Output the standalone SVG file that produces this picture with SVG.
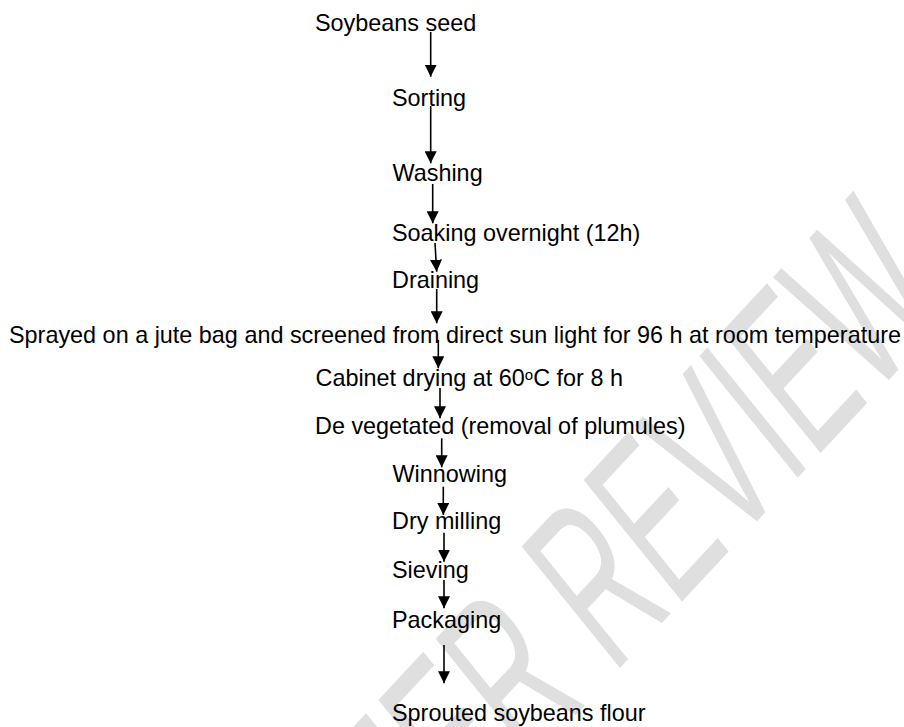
<svg xmlns="http://www.w3.org/2000/svg" width="904" height="727" viewBox="0 0 904 727">
<style>
  .t { font-family: "Liberation Sans", Arial, sans-serif; font-size: 23.4px; fill: #000; }
  .c { stroke: #000; stroke-width: 1.6; fill: none; marker-end: url(#ah); }
  .wm { font-family: "Liberation Sans", Arial, sans-serif; font-size: 225px; fill: #dfdfdf; }
</style>
<defs>
  <marker id="ah" markerUnits="userSpaceOnUse" markerWidth="12" markerHeight="12" refX="12" refY="6" orient="auto">
    <path d="M0,0 L12,6 L0,12 z" fill="#000"/>
  </marker>
</defs>
<rect width="904" height="727" fill="#fff"/>
<g id="watermark">
  <text class="wm" text-anchor="end" transform="translate(952,312) rotate(-47) skewX(-8) scale(0.56,1)">FOR PEER REVIEW</text>
</g>
<g id="connectors">
  <line class="c" x1="430.7" y1="32" x2="430.7" y2="76.7"/>
  <line class="c" x1="430.7" y1="106" x2="430.7" y2="163.3"/>
  <line class="c" x1="432.7" y1="184" x2="432.7" y2="223.3"/>
  <line class="c" x1="435" y1="243" x2="436.7" y2="271.7"/>
  <line class="c" x1="436.7" y1="289" x2="436.7" y2="323.3"/>
  <line class="c" x1="438.3" y1="340" x2="438.3" y2="368.3"/>
  <line class="c" x1="440" y1="388" x2="440" y2="418.3"/>
  <line class="c" x1="441.7" y1="438.3" x2="441.7" y2="467.3"/>
  <line class="c" x1="443.3" y1="486.7" x2="443.3" y2="515"/>
  <line class="c" x1="444" y1="532.7" x2="444" y2="561.7"/>
  <line class="c" x1="444" y1="580" x2="444" y2="608.3"/>
  <line class="c" x1="444" y1="645" x2="444" y2="683.3"/>
</g>
<g id="n1"><text class="t" x="315" y="30.5">Soybeans seed</text></g>
<g id="n2"><text class="t" x="392" y="105.5">Sorting</text></g>
<g id="n3"><text class="t" x="392.5" y="180.7">Washing</text></g>
<g id="n4"><text class="t" x="392" y="240.7">Soaking overnight (12h)</text></g>
<g id="n5"><text class="t" x="392" y="288.3">Draining</text></g>
<g id="n6"><text class="t" x="9" y="343.3">Sprayed on a jute bag and screened from direct sun light for 96 h at room temperature</text></g>
<g id="n7"><text class="t" x="315.5" y="386">Cabinet drying at 60<tspan font-size="15" dy="-6">o</tspan><tspan dy="6">C for 8 h</tspan></text></g>
<g id="n8"><text class="t" x="315" y="434">De vegetated (removal of plumules)</text></g>
<g id="n9"><text class="t" x="392.5" y="481.7">Winnowing</text></g>
<g id="n10"><text class="t" x="392" y="529.3">Dry milling</text></g>
<g id="n11"><text class="t" x="392" y="578.3">Sieving</text></g>
<g id="n12"><text class="t" x="392" y="627.7">Packaging</text></g>
<g id="n13"><text class="t" x="392" y="720.5">Sprouted soybeans flour</text></g>
</svg>
